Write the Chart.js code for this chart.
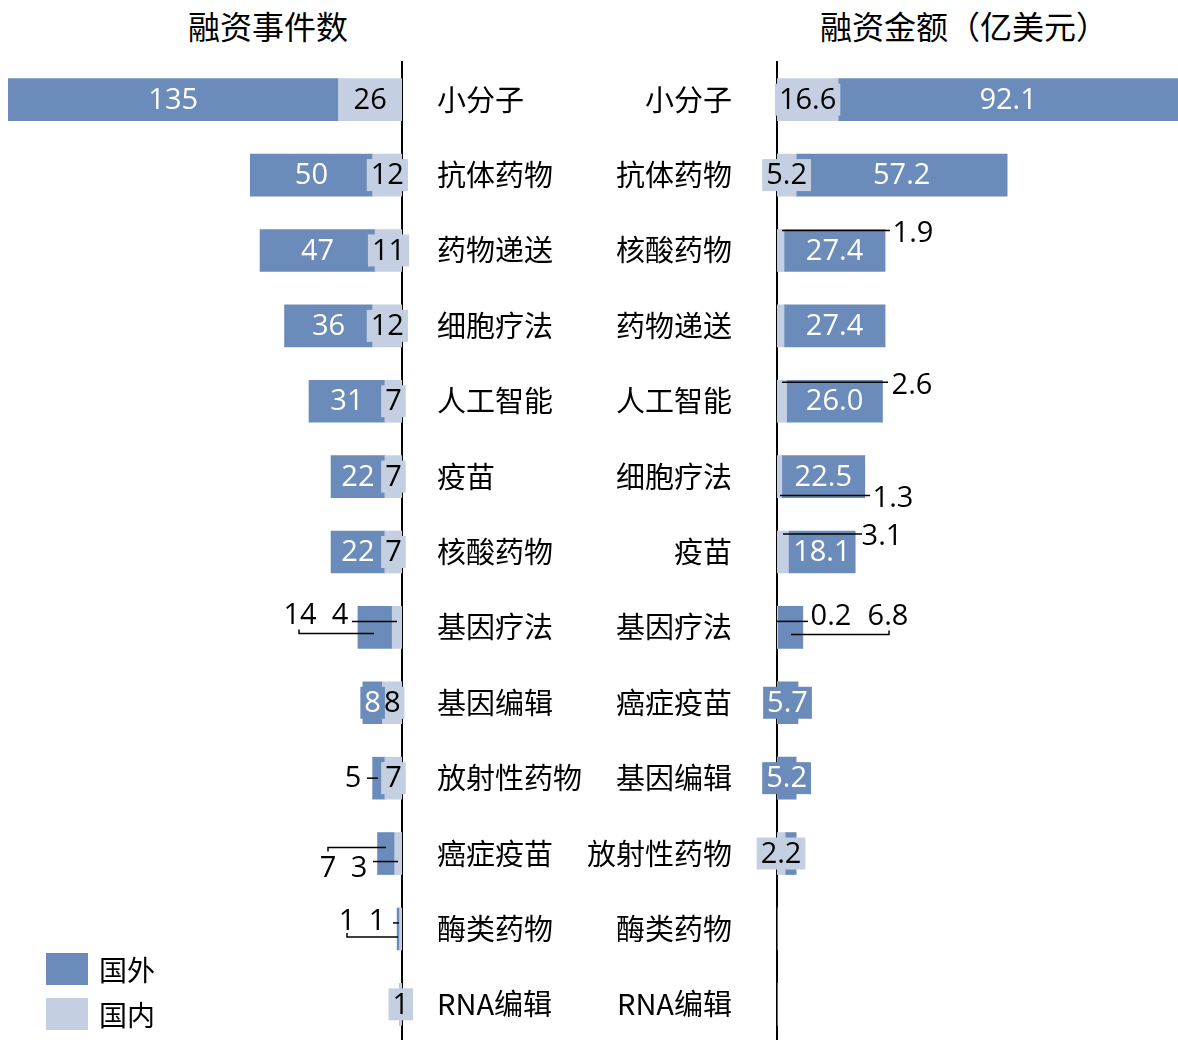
<!DOCTYPE html>
<html lang="zh">
<head>
<meta charset="utf-8">
<title>融资事件数 / 融资金额</title>
<script src="https://cdn.jsdelivr.net/npm/chart.js@4.4.1/dist/chart.umd.min.js"></script>
<style>
    body { margin: 0; width: 1178px; height: 1040px; overflow: hidden; background: #fff; position: relative; }
    canvas { position: absolute; top: 0; }
    #leftChart { left: 0; }
    #rightChart { left: 580px; }
    .title { position: absolute; top: 9px; font: 32px/1 'Noto Sans CJK SC', sans-serif; color: #000; white-space: nowrap; transform: translateX(-50%); }
    .legend-box { position: absolute; left: 46px; width: 42px; height: 32px; }
    .legend-text { position: absolute; left: 99px; font: 28px 'Noto Sans CJK SC', sans-serif; line-height: 32px; }
</style>
</head>
<body>
<div class="title" style="left:268px">融资事件数</div>
<div class="title" style="left:964px">融资金额（亿美元）</div>

<canvas id="leftChart" width="592" height="1042"></canvas>
<canvas id="rightChart" width="598" height="1042"></canvas>

<div class="legend-box" style="top:953px;background:#6b8cba"></div>
<div class="legend-text" style="top:953px">国外</div>
<div class="legend-box" style="top:998px;background:#c4cfe2"></div>
<div class="legend-text" style="top:998px">国内</div>

<script>
const DARK = '#6b8cba';
const LIGHT = '#c4cfe2';

// 融资事件数
const countCategories = ['小分子', '抗体药物', '药物递送', '细胞疗法', '人工智能', '疫苗', '核酸药物', '基因疗法', '基因编辑', '放射性药物', '癌症疫苗', '酶类药物', 'RNA编辑'];
const countForeign = [135, 50, 47, 36, 31, 22, 22, 14, 8, 5, 7, 1, 0];
const countDomestic = [26, 12, 11, 12, 7, 7, 7, 4, 8, 7, 3, 1, 1];

// 融资金额（亿美元）
const amountCategories = ['小分子', '抗体药物', '核酸药物', '药物递送', '人工智能', '细胞疗法', '疫苗', '基因疗法', '癌症疫苗', '基因编辑', '放射性药物', '酶类药物', 'RNA编辑'];
const amountForeign = [92.1, 57.2, 27.4, 27.4, 26.0, 22.5, 18.1, 6.8, 5.7, 5.2, 3.0, 0, 0];
const amountDomestic = [16.6, 5.2, 1.9, 1.9, 2.6, 1.3, 3.1, 0.2, 0, 0, 2.2, 0, 0];

// label placement for the small bars: offsets from (axis x, row centre y)
// key = dataset index (0 国内, 1 国外) + '-' + row
const countCallouts = {
    '1-7': { tx: -102, ty: -13, line: [[-103, 2], [-103, 6], [-28, 6]] },
    '0-7': { tx: -62, ty: -13, line: [[-50, -6], [-5, -6]] },
    '1-9': { tx: -49, ty: 0, line: [[-35, 0], [-24, 0]] },
    '1-10': { tx: -74, ty: 14, line: [[-74, -2], [-74, -6], [-16, -6]] },
    '0-10': { tx: -43, ty: 14, line: [[-29, 8], [-4, 8]] },
    '1-11': { tx: -55, ty: -8, line: [[-55, 4], [-55, 8], [-4, 8]] },
    '0-11': { tx: -25, ty: -8, line: [[-9, -6], [-3, -6]] }
};
const amountCallouts = {
    '0-2': { tx: 136, ty: -18, line: [[5, -20], [113, -20]] },
    '0-3': { hidden: true },
    '0-4': { tx: 135, ty: -16, line: [[5, -19], [111, -19]] },
    '0-5': { tx: 116, ty: 21, line: [[3, 19], [93, 19]] },
    '0-6': { tx: 105, ty: -16, line: [[6, -18], [85, -18]] },
    '0-7': { tx: 54, ty: -12, line: [[0, -6], [31, -6]] },
    '1-7': { tx: 111, ty: -12, line: [[14, 7], [112, 7], [112, 3]] },
    '1-10': { hidden: true }
};

const NUM_FONT = "29px 'Open Sans', 'Noto Sans', sans-serif";

function makeLabelPlugin(callouts, decimals) {
    return {
        id: 'barLabels',
        afterDraw(chart) {
            const ctx = chart.ctx;
            const axisX = chart.scales.x.getPixelForValue(0);
            ctx.save();
            ctx.font = NUM_FONT;
            ctx.textAlign = 'center';
            ctx.textBaseline = 'middle';

            chart.data.datasets.forEach((ds, di) => {
                const meta = chart.getDatasetMeta(di);
                meta.data.forEach((bar, i) => {
                    const value = ds.data[i];
                    if (!value) return;
                    const text = value.toFixed(decimals);
                    const c = callouts[di + '-' + i];
                    if (c && c.hidden) return;
                    const cy = chart.scales.y.getPixelForValue(i);

                    if (c) {
                        ctx.strokeStyle = '#000';
                        ctx.lineWidth = 1.5;
                        ctx.beginPath();
                        c.line.forEach((p, k) => {
                            if (k === 0) ctx.moveTo(axisX + p[0], cy + p[1]);
                            else ctx.lineTo(axisX + p[0], cy + p[1]);
                        });
                        ctx.stroke();
                        ctx.fillStyle = '#000';
                        ctx.fillText(text, axisX + c.tx, cy + c.ty + 1);
                        return;
                    }

                    const x = (bar.x + bar.base) / 2;
                    const w = ctx.measureText(text).width + 8;
                    ctx.fillStyle = ds.backgroundColor;
                    ctx.fillRect(x - w / 2, cy - 16, w, 32);
                    ctx.fillStyle = di === 1 ? '#fff' : '#000';
                    ctx.fillText(text, x, cy + 1);
                });
            });
            ctx.restore();
        }
    };
}

// keep the fixed axis width and drop the extra label padding chart.js adds top/bottom
function fixAxis(width) {
    return (scale) => {
        scale.width = width;
        scale.paddingTop = 0;
        scale.paddingBottom = 0;
    };
}

function renderCountChart() {
    const ctx = document.getElementById('leftChart').getContext('2d');
    new Chart(ctx, {
        type: 'bar',
        data: {
            labels: countCategories,
            datasets: [
                { label: '国内', data: countDomestic, backgroundColor: LIGHT },
                { label: '国外', data: countForeign, backgroundColor: DARK }
            ]
        },
        options: {
            indexAxis: 'y',
            responsive: false,
            animation: false,
            barThickness: 42,
            layout: { padding: { left: 8, top: 62, right: 0, bottom: 0 } },
            plugins: { legend: { display: false }, tooltip: { enabled: false } },
            scales: {
                x: { stacked: true, reverse: true, min: 0, max: 161, display: false },
                y: {
                    stacked: true,
                    position: 'right',
                    z: 1,
                    afterFit: fixAxis(190),
                    grid: { drawOnChartArea: false, drawTicks: false },
                    border: { display: true, color: '#000', width: 2 },
                    ticks: {
                        autoSkip: false,
                        padding: 35,
                        color: '#000',
                        font: { family: "'Noto Sans CJK SC', sans-serif", size: 29 }
                    }
                }
            }
        },
        plugins: [makeLabelPlugin(countCallouts, 0)]
    });
}

function renderAmountChart() {
    const ctx = document.getElementById('rightChart').getContext('2d');
    new Chart(ctx, {
        type: 'bar',
        data: {
            labels: amountCategories,
            datasets: [
                { label: '国内', data: amountDomestic, backgroundColor: LIGHT },
                { label: '国外', data: amountForeign, backgroundColor: DARK }
            ]
        },
        options: {
            indexAxis: 'y',
            responsive: false,
            animation: false,
            barThickness: 42,
            layout: { padding: { left: 0, top: 62, right: 0, bottom: 0 } },
            plugins: { legend: { display: false }, tooltip: { enabled: false } },
            scales: {
                x: { stacked: true, min: 0, max: 108.7, display: false },
                y: {
                    stacked: true,
                    position: 'left',
                    z: 1,
                    afterFit: fixAxis(197),
                    grid: { drawOnChartArea: false, drawTicks: false },
                    border: { display: true, color: '#000', width: 2 },
                    ticks: {
                        autoSkip: false,
                        padding: 45,
                        color: '#000',
                        font: { family: "'Noto Sans CJK SC', sans-serif", size: 29 }
                    }
                }
            }
        },
        plugins: [makeLabelPlugin(amountCallouts, 1)]
    });
}

renderCountChart();
renderAmountChart();
</script>
</body>
</html>
